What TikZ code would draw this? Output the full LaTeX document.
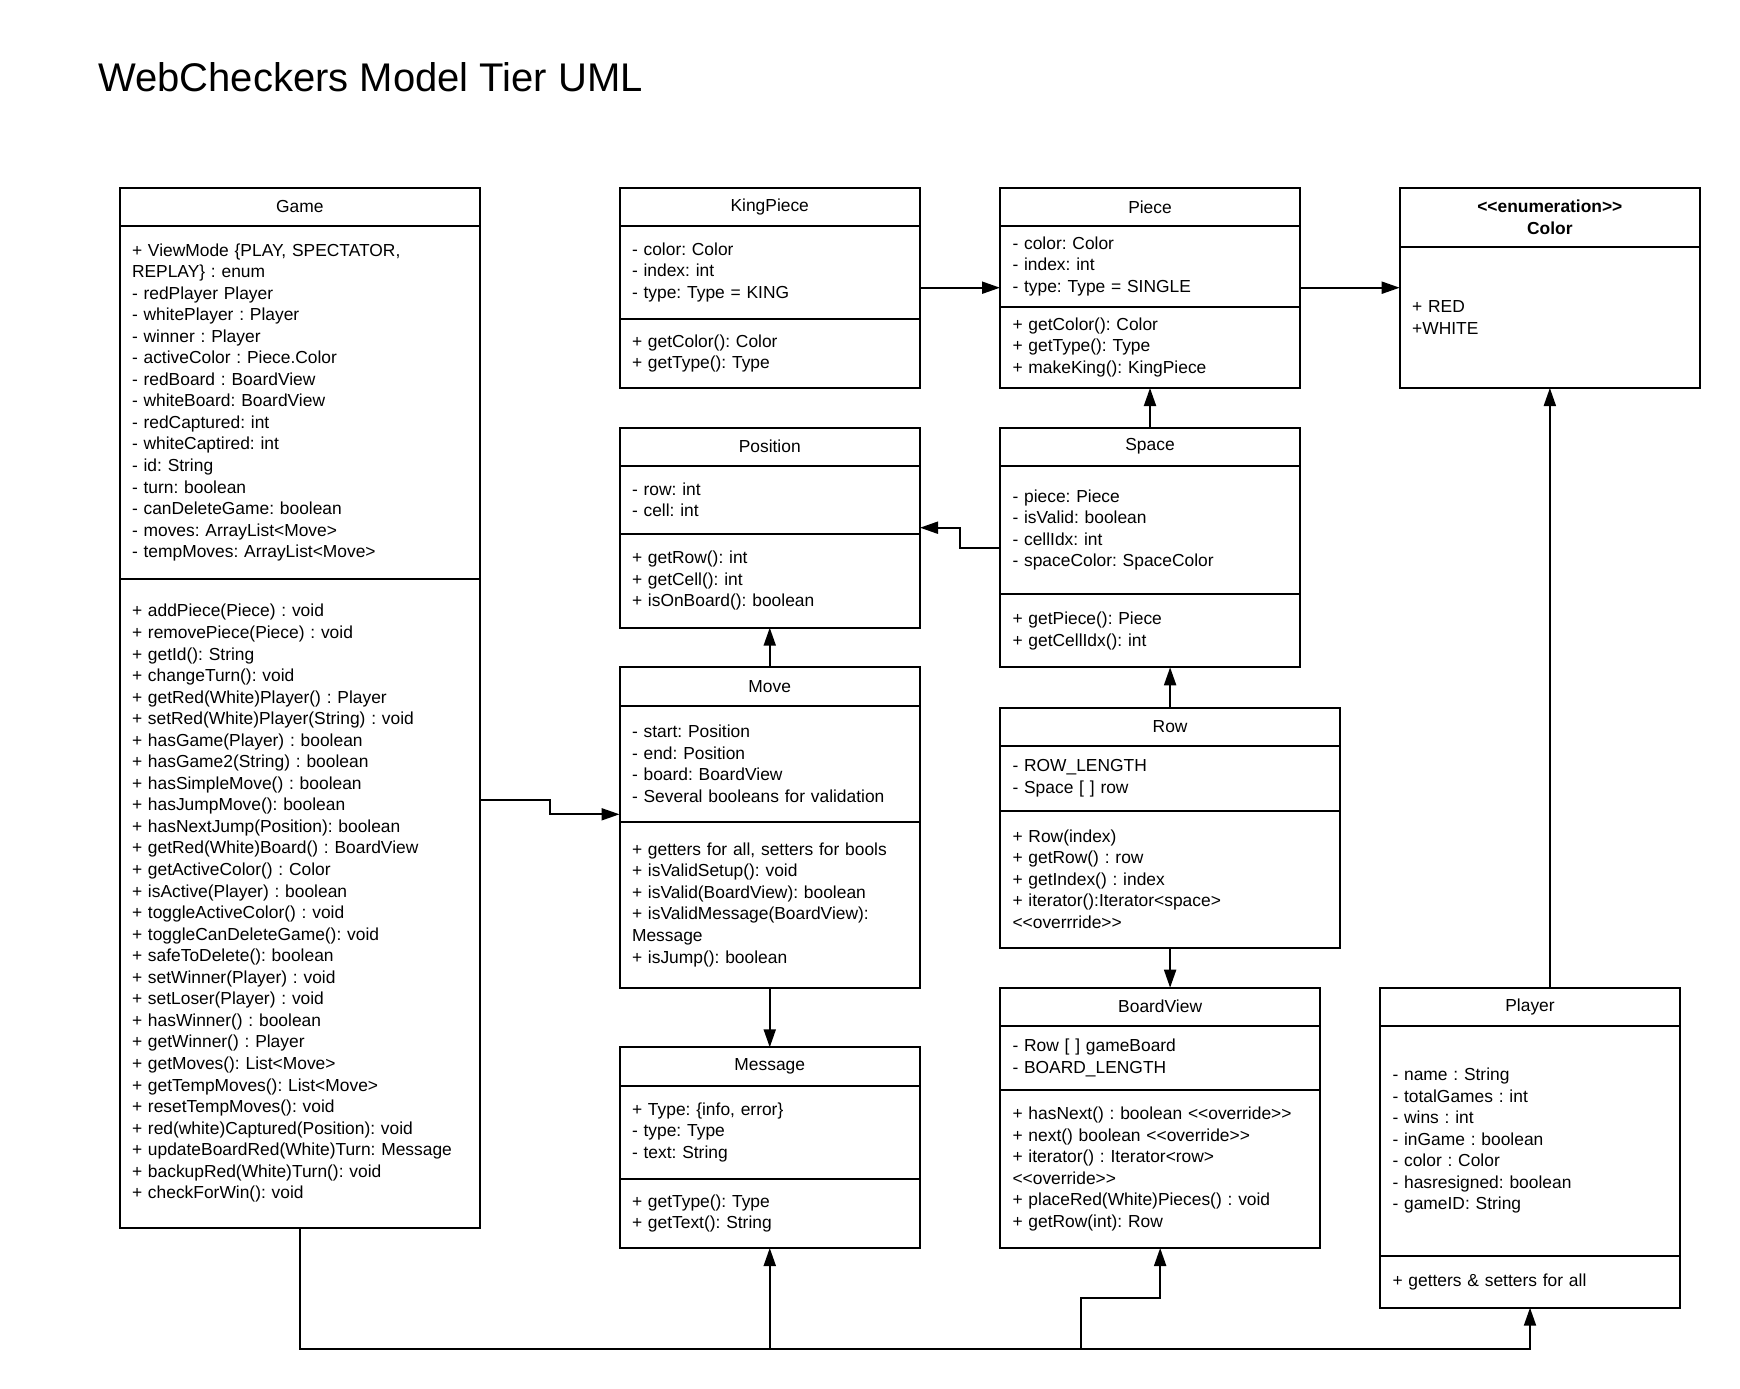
\documentclass[tikz,border=0pt]{standalone}
\usepackage{fontspec}
\newfontfamily\umlfont{Liberation Sans}
\usetikzlibrary{positioning,arrows.meta}
\frenchspacing

\begin{document}
\begin{tikzpicture}[x=1pt,y=-1pt,
    box/.style={draw,line width=2pt,outer sep=0pt,inner ysep=0pt,
      font=\umlfont\fontsize{17.4}{21.55}\selectfont},
    classname/.style={box,anchor=north west,inner xsep=0pt,align=center},
    compartment/.style={box,inner xsep=12.5pt,align=left,below=0pt of #1},
    assoc/.style={line width=2pt,-{Triangle[length=18pt,width=12pt]}},
  ]
  % \helpgrid
  \fill[white] (0,0) rectangle (1740,1389);
  \useasboundingbox (0,0) rectangle (1740,1389);

  \node[anchor=base west,inner sep=0pt,font=\umlfont\fontsize{40}{44}\selectfont]
    (title) at (98,92) {WebCheckers Model Tier UML};

  % Game
  \node[classname,minimum width=360.5pt,minimum height=38.2pt] (game) at (119.5,187.5) {Game};
  \node[compartment=game,text width=335.5pt,minimum height=353.3pt] (gameattr)
    {+ ViewMode \{PLAY, SPECTATOR,\\REPLAY\} : enum\\- redPlayer Player\\- whitePlayer : Player\\
     - winner : Player\\- activeColor : Piece.Color\\- redBoard : BoardView\\- whiteBoard: BoardView\\
     - redCaptured: int\\- whiteCaptired: int\\- id: String\\- turn: boolean\\
     - canDeleteGame: boolean\\- moves: ArrayList<Move>\\- tempMoves: ArrayList<Move>};
  \node[compartment=gameattr,text width=335.5pt,minimum height=648.7pt] (gameops)
    {+ addPiece(Piece) : void\\+ removePiece(Piece) : void\\+ getId(): String\\+ changeTurn(): void\\
     + getRed(White)Player() : Player\\+ setRed(White)Player(String) : void\\
     + hasGame(Player) : boolean\\+ hasGame2(String) : boolean\\+ hasSimpleMove() : boolean\\
     + hasJumpMove(): boolean\\+ hasNextJump(Position): boolean\\
     + getRed(White)Board() : BoardView\\+ getActiveColor() : Color\\+ isActive(Player) : boolean\\
     + toggleActiveColor() : void\\+ toggleCanDeleteGame(): void\\+ safeToDelete(): boolean\\
     + setWinner(Player) : void\\+ setLoser(Player) : void\\+ hasWinner() : boolean\\
     + getWinner() : Player\\+ getMoves(): List<Move>\\+ getTempMoves(): List<Move>\\
     + resetTempMoves(): void\\+ red(white)Captured(Position): void\\
     + updateBoardRed(White)Turn: Message\\+ backupRed(White)Turn(): void\\+ checkForWin(): void};

  % KingPiece
  \node[classname,minimum width=300.5pt,minimum height=37.7pt] (king) at (619.5,188) {KingPiece};
  \node[compartment=king,text width=275.5pt,minimum height=93.3pt] (kingattr)
    {- color: Color\\- index: int\\- type: Type = KING};
  \node[compartment=kingattr,text width=275.5pt,minimum height=68.7pt] (kingops)
    {+ getColor(): Color\\+ getType(): Type};

  % Piece
  \node[classname,minimum width=300pt,minimum height=37.7pt] (piece) at (1000,188) {Piece};
  \node[compartment=piece,text width=275pt,minimum height=81pt] (pieceattr)
    {- color: Color\\- index: int\\- type: Type = SINGLE};
  \node[compartment=pieceattr,text width=275pt,minimum height=81.3pt] (pieceops)
    {+ getColor(): Color\\+ getType(): Type\\+ makeKing(): KingPiece};

  % Color
  \node[classname,minimum width=300.3pt,minimum height=58.7pt] (color) at (1399.7,188)
    {\bfseries <<enumeration>>\\\bfseries Color};
  \node[compartment=color,text width=275.3pt,minimum height=141.3pt] (colorattr)
    {+ RED\\+WHITE};

  % Position
  \node[classname,minimum width=300.5pt,minimum height=38pt] (pos) at (619.5,427.7) {Position};
  \node[compartment=pos,text width=275.5pt,minimum height=68.3pt] (posattr)
    {- row: int\\- cell: int};
  \node[compartment=posattr,text width=275.5pt,minimum height=93.7pt] (posops)
    {+ getRow(): int\\+ getCell(): int\\+ isOnBoard(): boolean};

  % Space
  \node[classname,minimum width=300pt,minimum height=38pt] (space) at (1000,427.7) {Space};
  \node[compartment=space,text width=275pt,minimum height=128.6pt] (spaceattr)
    {- piece: Piece\\- isValid: boolean\\- cellIdx: int\\- spaceColor: SpaceColor};
  \node[compartment=spaceattr,text width=275pt,minimum height=73pt] (spaceops)
    {+ getPiece(): Piece\\+ getCellIdx(): int};

  % Move
  \node[classname,minimum width=300.5pt,minimum height=38.4pt] (move) at (619.5,667.3) {Move};
  \node[compartment=move,text width=275.5pt,minimum height=116pt] (moveattr)
    {- start: Position\\- end: Position\\- board: BoardView\\- Several booleans for validation};
  \node[compartment=moveattr,text width=275.5pt,minimum height=166pt] (moveops)
    {+ getters for all, setters for bools\\+ isValidSetup(): void\\+ isValid(BoardView): boolean\\
     + isValidMessage(BoardView):\\Message\\+ isJump(): boolean};

  % Row
  \node[classname,minimum width=340.2pt,minimum height=38pt] (row) at (1000,707.7) {Row};
  \node[compartment=row,text width=315.2pt,minimum height=65pt] (rowattr)
    {- ROW\_LENGTH\\- Space [ ] row};
  \node[compartment=rowattr,text width=315.2pt,minimum height=137pt] (rowops)
    {+ Row(index)\\+ getRow() : row\\+ getIndex() : index\\+ iterator():Iterator<space>\\<<overrride>>};

  % Message
  \node[classname,minimum width=300.5pt,minimum height=38.4pt] (msg) at (619.5,1047.3) {Message};
  \node[compartment=msg,text width=275.5pt,minimum height=93.3pt] (msgattr)
    {+ Type: \{info, error\}\\- type: Type\\- text: String};
  \node[compartment=msgattr,text width=275.5pt,minimum height=69pt] (msgops)
    {+ getType(): Type\\+ getText(): String};

  % BoardView
  \node[classname,minimum width=320.3pt,minimum height=38pt] (board) at (1000,987.7) {BoardView};
  \node[compartment=board,text width=295.3pt,minimum height=64.3pt] (boardattr)
    {- Row [ ] gameBoard\\- BOARD\_LENGTH};
  \node[compartment=boardattr,text width=295.3pt,minimum height=158pt] (boardops)
    {+ hasNext() : boolean <<override>>\\+ next() boolean <<override>>\\
     + iterator() : Iterator<row>\\<<override>>\\+ placeRed(White)Pieces() : void\\+ getRow(int): Row};

  % Player
  \node[classname,minimum width=300pt,minimum height=37.7pt] (player) at (1380,988) {Player};
  \node[compartment=player,text width=275pt,minimum height=230pt] (playerattr)
    {- name : String\\- totalGames : int\\- wins : int\\- inGame : boolean\\- color : Color\\
     - hasresigned: boolean\\- gameID: String};
  \node[compartment=playerattr,text width=275pt,minimum height=52pt] (playerops)
    {+ getters \& setters for all};

  % connectors
  \coordinate (pieceline) at (0,287.7);
  \coordinate (gamelink) at (0,800);
  \coordinate (movelink) at (550,814.3);
  \coordinate (spacelink) at (959.5,548);
  \coordinate (poslink) at (959.5,527.7);
  \coordinate (bus) at (0,1349);
  \coordinate (boardjog) at (1081.3,1298.3);

  \draw[assoc] (kingattr.east |- pieceline) -- (pieceattr.west |- pieceline);
  \draw[assoc] (pieceattr.east |- pieceline) -- (colorattr.west |- pieceline);
  \draw[assoc] (space.north) -- (pieceops.south);
  \draw[assoc] (spaceattr.west |- spacelink) -| (poslink) -- (posattr.east |- poslink);
  \draw[assoc] (move.north) -- (posops.south);
  \draw[assoc] (moveops.south) -- (msg.north);
  \draw[assoc] (gameops.east |- gamelink) -| (movelink) -- (moveattr.west |- movelink);
  \draw[assoc] (row.north) -- (row.north |- spaceops.south);
  \draw[assoc] (rowops.south) -- (rowops.south |- board.north);
  \draw[assoc] (colorattr.south |- player.north) -- (colorattr.south);
  \draw[assoc] (gameops.south) |- (playerops.south |- bus) -- (playerops.south);
  \draw[assoc] (msgops.south |- bus) -- (msgops.south);
  \draw[assoc] (boardjog |- bus) -- (boardjog) -| (boardops.south);
\end{tikzpicture}
\end{document}
